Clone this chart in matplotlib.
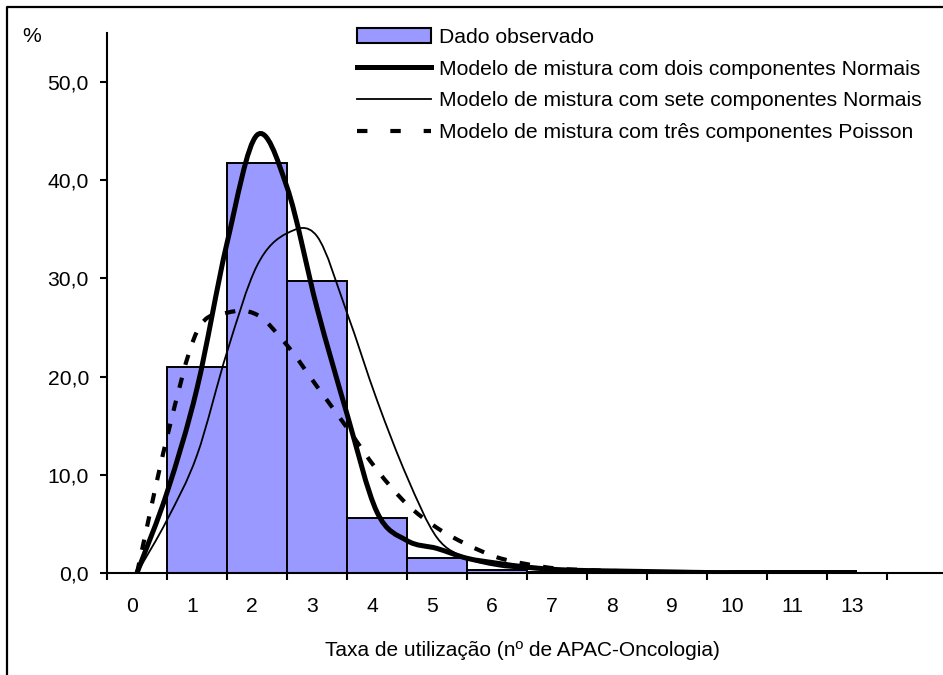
import numpy as np
import matplotlib
matplotlib.use("Agg")
import matplotlib.pyplot as plt
from matplotlib.path import Path
from matplotlib.patches import PathPatch, Patch
from matplotlib.lines import Line2D

plt.rcParams['font.family'] = ['Liberation Sans', 'DejaVu Sans']

# ---------------- data ----------------
categories = ["0", "1", "2", "3", "4", "5", "6", "7", "8", "9", "10", "11", "13"]
observed = [0.0, 21.0, 41.8, 29.7, 5.6, 1.5, 0.35, 0.1, 0.05, 0.0, 0.0, 0.0, 0.0]

# model curves read at half-category steps (category index units)
curve_x = [0, 0.5, 1, 1.5, 2, 2.5, 3, 3.5, 4, 4.5, 5, 5.5, 6, 6.5, 7, 7.5, 8,
           8.5, 9, 9.5, 10, 10.5, 11, 11.5, 12]
two_normals = [0, 8.2, 18.8, 33.6, 44.6, 39.3, 27.0, 16.2, 6.2, 3.3, 2.5, 1.5, 1.0,
               0.6, 0.35, 0.25, 0.2, 0.15, 0.1, 0.05, 0.05, 0.05, 0.05, 0.05, 0.05]
seven_normals = [0, 5.4, 12.0, 22.5, 31.3, 34.6, 34.3, 26.5, 17.6, 9.8, 3.6, 1.5, 0.7,
                 0.4, 0.3, 0.2, 0.15, 0.1, 0.05, 0.05, 0, 0, 0, 0, 0]
three_poisson = [0, 13.8, 24.6, 26.5, 26.3, 23.2, 19.0, 14.8, 10.5, 7.0, 4.6, 2.9, 1.6,
                 0.9, 0.45, 0.3, 0.2, 0.1, 0.05, 0, 0, 0, 0, 0, 0]

labels = ["Dado observado",
          "Modelo de mistura com dois componentes Normais",
          "Modelo de mistura com sete componentes Normais",
          "Modelo de mistura com três componentes Poisson"]
yticks = [0, 10, 20, 30, 40, 50]
ytick_labels = ["0,0", "10,0", "20,0", "30,0", "40,0", "50,0"]
xlabel = "Taxa de utilização (nº de APAC-Oncologia)"


def smooth_path(xs, ys):
    """Excel-like smoothed line: Catmull-Rom converted to cubic Bezier."""
    P = np.column_stack([xs, ys]).astype(float)
    n = len(P)
    ext = np.vstack([2 * P[0] - P[1], P, 2 * P[-1] - P[-2]])
    verts = [P[0]]
    codes = [Path.MOVETO]
    for i in range(n - 1):
        p0, p1, p2, p3 = ext[i], ext[i + 1], ext[i + 2], ext[i + 3]
        c1 = p1 + (p2 - p0) / 6.0
        c2 = p2 - (p3 - p1) / 6.0
        verts += [c1, c2, p2]
        codes += [Path.CURVE4] * 3
    return Path(verts, codes)


W, H = 943, 675
fig = plt.figure(figsize=(W / 100, H / 100), dpi=100)
ax = fig.add_axes([107 / W, (H - 573) / H, (947 - 107) / W, 540 / H])
ax.set_xlim(-0.5, 13.5)
ax.set_ylim(0, 55)

xpos = np.arange(len(categories))
ax.bar(xpos, observed, width=1.0, color='#9999FF', edgecolor='black',
       linewidth=1.4, zorder=2)

fs = 15.2
dash = (0, (2.5, 3.2))
ax.add_patch(PathPatch(smooth_path(curve_x, three_poisson), fill=False,
                       edgecolor='black', lw=3.0, linestyle=dash, zorder=3,
                       capstyle='butt'))
ax.add_patch(PathPatch(smooth_path(curve_x, seven_normals), fill=False,
                       edgecolor='black', lw=1.3, zorder=4))
ax.add_patch(PathPatch(smooth_path(curve_x, two_normals), fill=False,
                       edgecolor='black', lw=3.6, zorder=5))

for s in ['top', 'right']:
    ax.spines[s].set_visible(False)
for s in ['left', 'bottom']:
    ax.spines[s].set_linewidth(1.5)

ax.set_yticks(yticks)
ax.set_yticklabels(ytick_labels, fontsize=fs)
ax.tick_params(axis='y', direction='out', length=5, width=1.5, pad=8)

ax.set_xticks(np.arange(-0.5, 14.0, 1.0))
ax.set_xticklabels([])
ax.tick_params(axis='x', which='major', direction='out', length=5, width=1.5)
ax.set_xticks(xpos - 0.08, minor=True)
ax.set_xticklabels(categories, minor=True, fontsize=fs)
ax.tick_params(axis='x', which='minor', length=0, pad=17)

handles = [Patch(facecolor='#9999FF', edgecolor='black', linewidth=1.5),
           Line2D([], [], color='black', lw=3.6),
           Line2D([], [], color='black', lw=1.3),
           Line2D([], [], color='black', lw=3.0, linestyle=(0, (2.5, 5.5)))]
ax.legend(handles, labels, loc='upper left',
          bbox_to_anchor=(357 / W, 1 - 28 / H), bbox_transform=fig.transFigure,
          frameon=False, fontsize=fs, handlelength=3.5, handletextpad=0.4,
          labelspacing=0.6, borderpad=0, borderaxespad=0)

fig.text(32 / W, 1 - 37 / H, "%", fontsize=fs, ha='center', va='center')
fig.text(522 / W, 1 - 650 / H, xlabel, fontsize=15.0, ha='center', va='center')

fig.add_artist(Line2D([7 / W, 7 / W, 1.0], [0.0, 1 - 7 / H, 1 - 7 / H],
                      transform=fig.transFigure, color='black', lw=1.6))

fig.savefig("out.png", dpi=100)
